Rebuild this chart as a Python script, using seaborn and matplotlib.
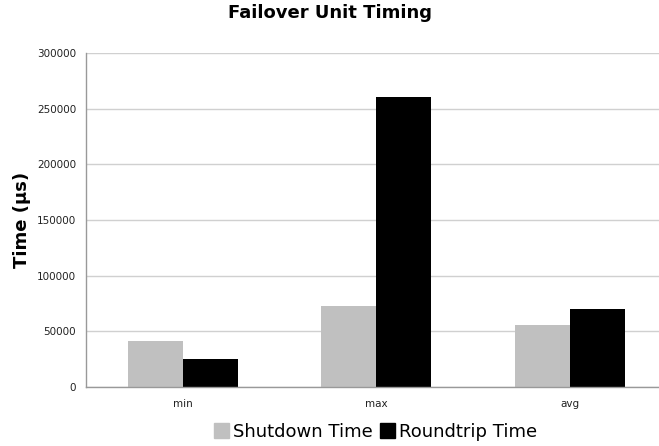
import matplotlib.pyplot as plt
import seaborn as sns
import pandas as pd

sns.set_theme(style="white")
plt.rcParams['font.family'] = ['DejaVu Sans']

categories = ["min", "max", "avg"]
shutdown_time = [41500, 73000, 55500]
roundtrip_time = [25500, 260500, 70000]
series_names = ["Shutdown Time", "Roundtrip Time"]
yticks = [0, 50000, 100000, 150000, 200000, 250000, 300000]

df = pd.DataFrame({
    "category": categories * 2,
    "series": [series_names[0]] * 3 + [series_names[1]] * 3,
    "value": shutdown_time + roundtrip_time,
})

fig = plt.figure(figsize=(6.59, 4.46), dpi=100)
# axes run a bit past the right edge, like the original export
ax = fig.add_axes([0.1305, 0.1323, 0.881, 0.749])

ax.yaxis.grid(True, color="#d0d0d0", linewidth=1)
ax.set_axisbelow(True)

sns.barplot(data=df, x="category", y="value", hue="series",
            palette=["#c0c0c0", "#000000"], width=0.57,
            edgecolor="none", ax=ax, legend=False)

ax.set_ylim(0, 300000)
ax.set_xlim(-0.5, 2.5)
ax.set_yticks(yticks)
ax.set_yticklabels([str(t) for t in yticks], fontsize=7.5, color="#222222")
ax.set_xticks([0, 1, 2])
ax.set_xticklabels(categories, fontsize=7.5, color="#222222")
ax.set_xticks([0.5, 1.5], minor=True)
ax.tick_params(axis="x", which="major", length=0, pad=9)
ax.tick_params(axis="x", which="minor", length=4, color="#999999", direction="in")
ax.tick_params(axis="y", length=4, color="#999999", pad=3)

ax.set_xlabel("")
ax.set_ylabel("Time (µs)", fontsize=13, fontweight="bold", labelpad=4, color="black")

for side in ["top", "right"]:
    ax.spines[side].set_visible(False)
for side in ["left", "bottom"]:
    ax.spines[side].set_color("#999999")
    ax.spines[side].set_linewidth(1)

fig.suptitle("Failover Unit Timing", fontsize=13, fontweight="bold", x=0.5, y=0.99,
             color="black")

handles = [plt.Rectangle((0, 0), 1, 1, color=c) for c in ["#c0c0c0", "#000000"]]
fig.legend(handles, series_names, loc="lower center", ncol=2, frameon=False,
           fontsize=13, bbox_to_anchor=(0.57, -0.025), handlelength=0.85,
           handleheight=0.85, handletextpad=0.2, columnspacing=0.4,
           labelcolor="black")

plt.savefig("out.png", dpi=100)
